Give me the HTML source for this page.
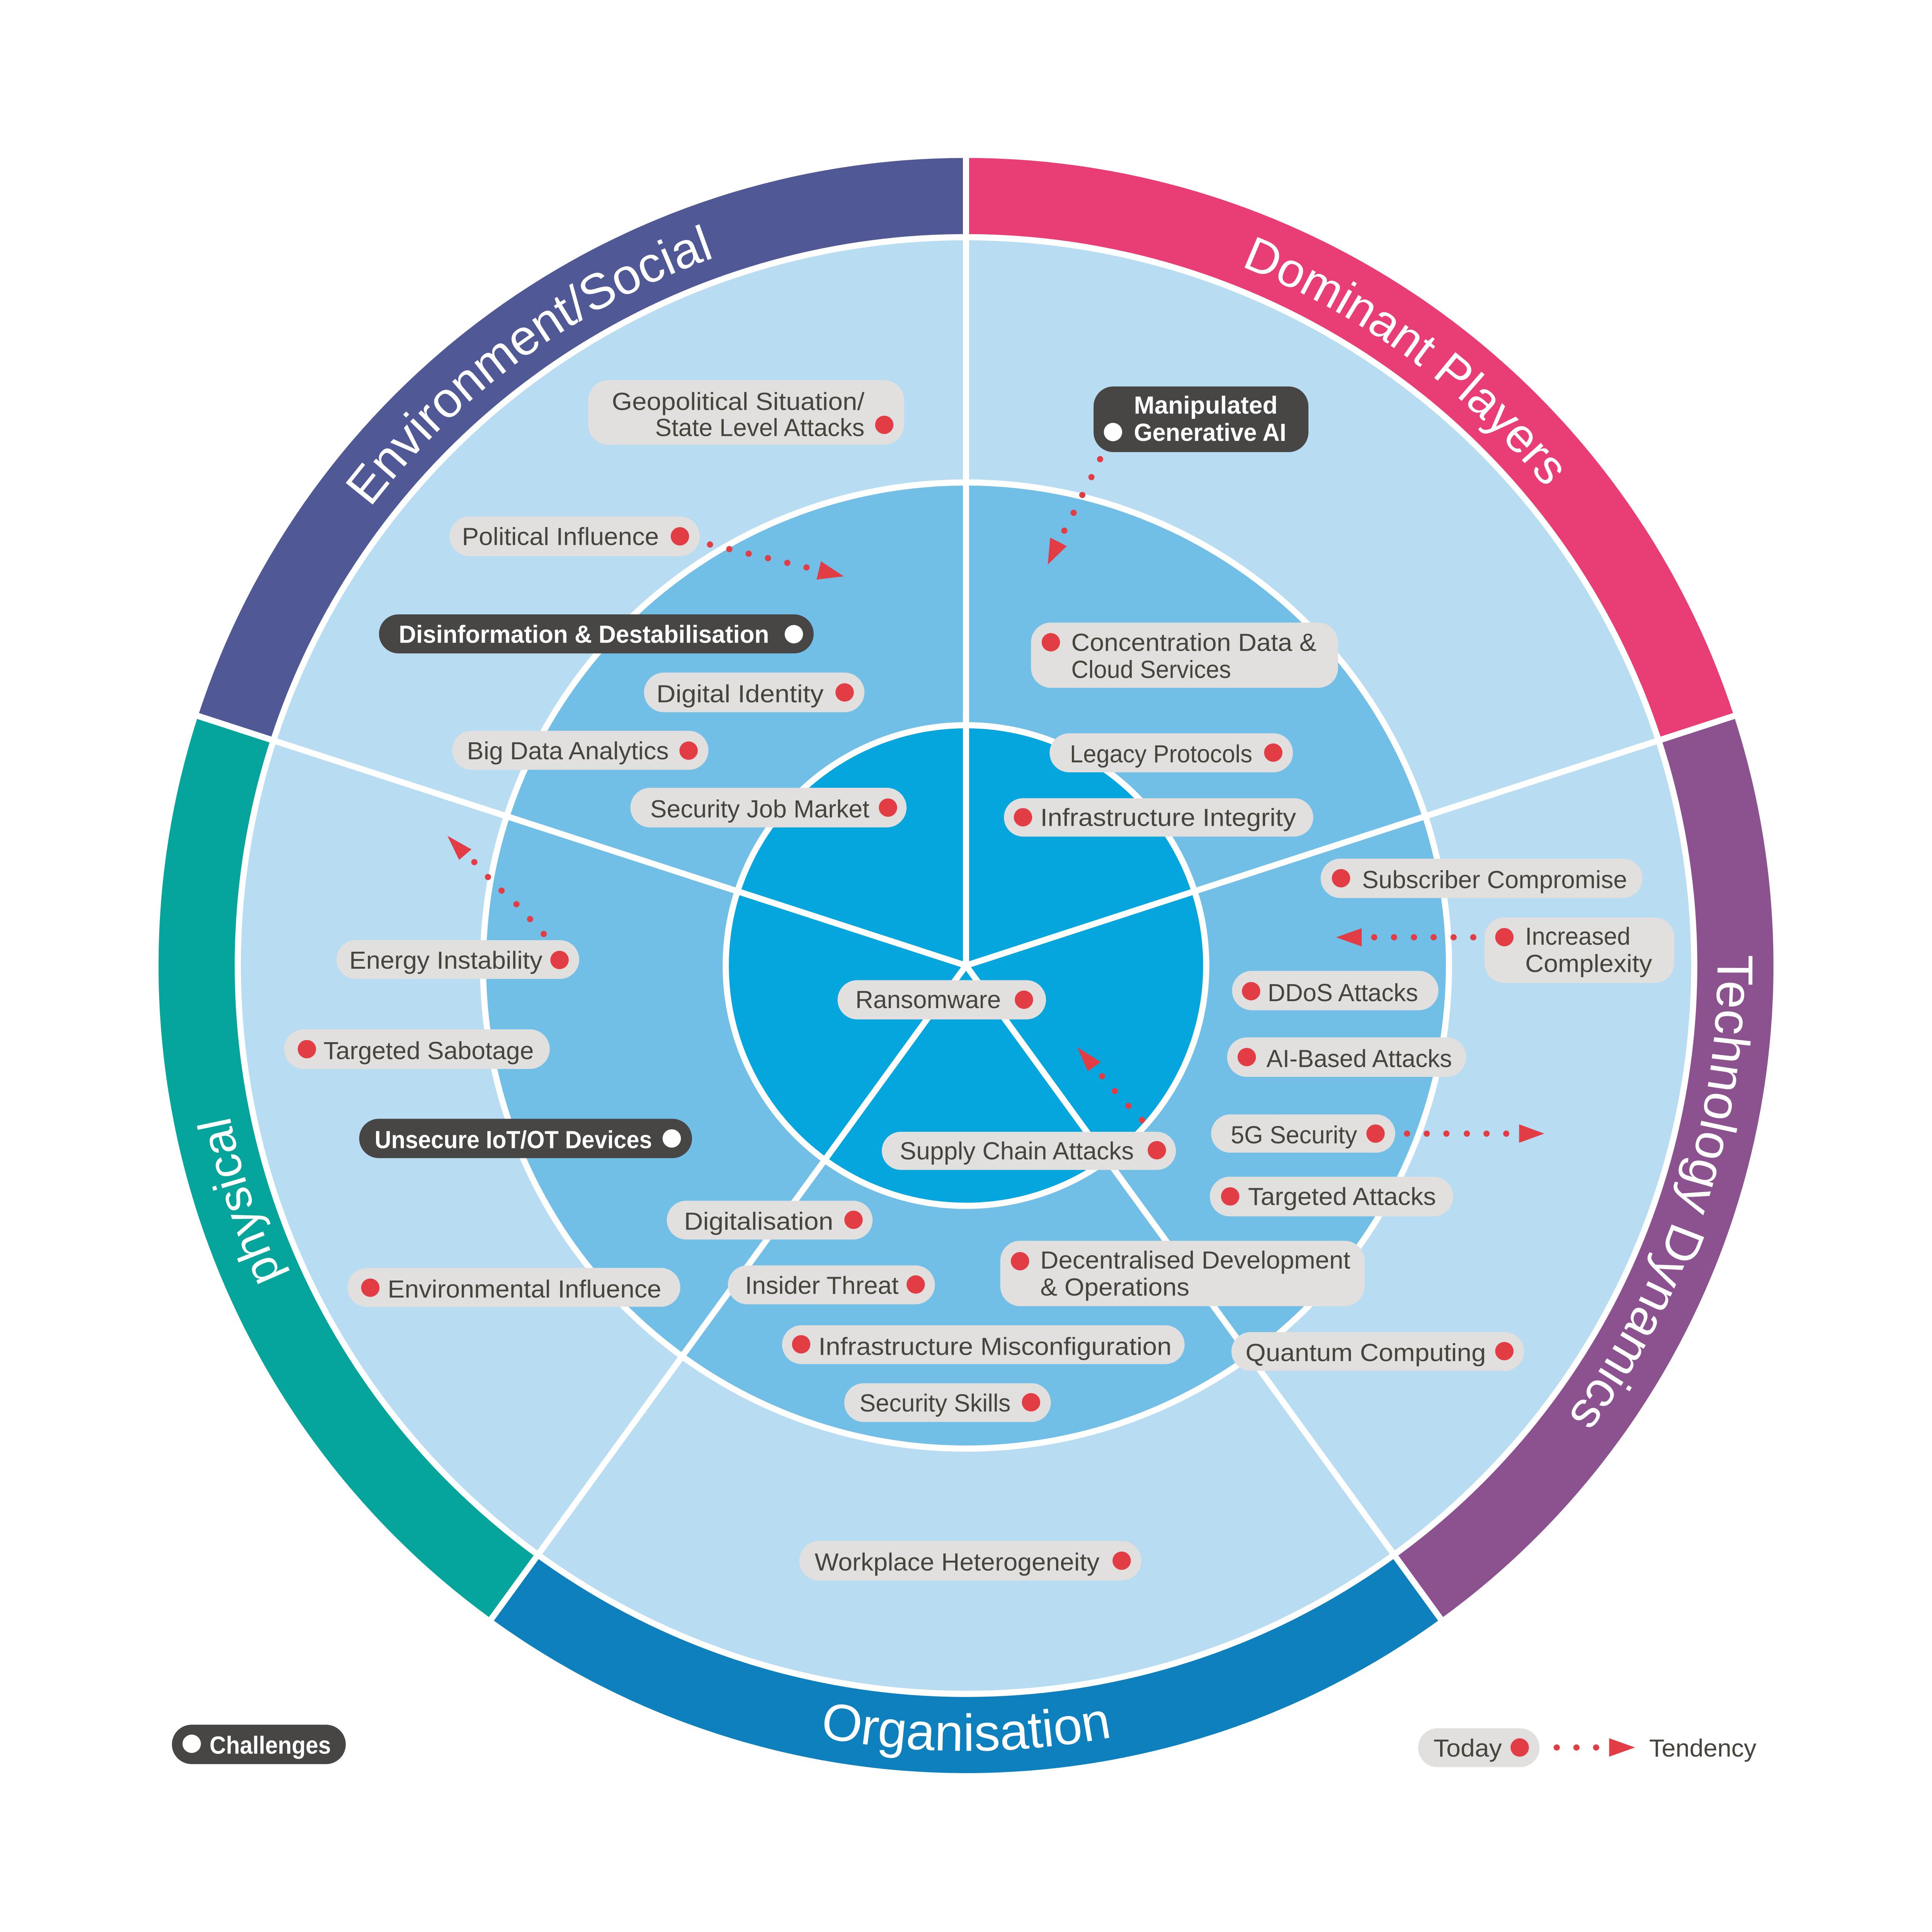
<!DOCTYPE html>
<html>
<head>
<meta charset="utf-8">
<meta name="viewport" content="width=device-width, initial-scale=1">
<style>
html,body{margin:0;padding:0;background:#fff;width:100%;height:100%;overflow:hidden;}
svg{display:block;width:100vw;height:100vh;position:absolute;left:0;top:0;}
.t{font-family:"Liberation Sans",sans-serif;font-size:20px;fill:#47443e;}
.b{font-family:"Liberation Sans",sans-serif;font-size:20px;font-weight:bold;fill:#ffffff;}
.rt{font-family:"Liberation Sans",sans-serif;fill:#ffffff;}
.lb{fill:#e1e0df;}
.dk{fill:#474645;}
.rd{fill:#e23d44;}
.wd{fill:#ffffff;}
</style>
</head>
<body>
<svg viewBox="0 0 1560 1559.76" preserveAspectRatio="none" xmlns="http://www.w3.org/2000/svg">
<rect x="0" y="0" width="1560" height="1560" fill="#ffffff"/>

<!-- Outer ring segments -->
<path d="M780 127.5 A652 652 0 0 1 1400.09 578.02 L1337.32 598.41 A586 586 0 0 0 780 193.5 Z" fill="#e93d76"/>
<path d="M1400.09 578.02 A652 652 0 0 1 1163.24 1306.98 L1124.44 1253.59 A586 586 0 0 0 1337.32 598.41 Z" fill="#8c528f"/>
<path d="M1163.24 1306.98 A652 652 0 0 1 396.76 1306.98 L435.56 1253.59 A586 586 0 0 0 1124.44 1253.59 Z" fill="#0f80be"/>
<path d="M396.76 1306.98 A652 652 0 0 1 159.91 578.02 L222.68 598.41 A586 586 0 0 0 435.56 1253.59 Z" fill="#05a59b"/>
<path d="M159.91 578.02 A652 652 0 0 1 780 127.5 L780 193.5 A586 586 0 0 0 222.68 598.41 Z" fill="#505996"/>

<!-- Discs -->
<circle cx="780" cy="779.5" r="588" fill="#b8dcf2" stroke="#ffffff" stroke-width="5"/>
<circle cx="780" cy="779.5" r="390" fill="#71bee7" stroke="#ffffff" stroke-width="5"/>
<circle cx="780" cy="779.5" r="194" fill="#05a5dd" stroke="#ffffff" stroke-width="5"/>

<!-- Spokes -->
<g stroke="#ffffff" stroke-width="5" stroke-linecap="butt">
<line x1="780" y1="779.5" x2="780" y2="119.5"/>
<line x1="780" y1="779.5" x2="1407.70" y2="575.55"/>
<line x1="780" y1="779.5" x2="1167.94" y2="1313.45"/>
<line x1="780" y1="779.5" x2="392.06" y2="1313.45"/>
<line x1="780" y1="779.5" x2="152.30" y2="575.55"/>
</g>

<!-- Ring text paths -->
<defs>
<path id="pEnv" d="M288.93 1136.29 A607 607 0 0 1 1271.07 422.71"/>
<path id="pDom" d="M288.93 422.71 A607 607 0 0 1 1271.07 1136.29"/>
<path id="pTech" d="M967.58 202.21 A607 607 0 0 1 592.42 1356.79"/>
<path id="pPhys" d="M967.58 1356.79 A607 607 0 0 1 592.42 202.21"/>
<path id="pOrg" d="M146 779.5 A634 634 0 0 0 1414 779.5"/>
</defs>
<text class="rt" font-size="40.5"><textPath href="#pEnv" startOffset="50%" text-anchor="middle">Environment/Social</textPath></text>
<text class="rt" font-size="39"><textPath href="#pDom" startOffset="50%" text-anchor="middle">Dominant Players</textPath></text>
<text class="rt" font-size="41"><textPath href="#pTech" startOffset="50%" text-anchor="middle">Technology Dynamics</textPath></text>
<text class="rt" font-size="38"><textPath href="#pPhys" startOffset="50%" text-anchor="middle">physical</textPath></text>
<text class="rt" font-size="42"><textPath href="#pOrg" startOffset="50%" text-anchor="middle">Organisation</textPath></text>

<!-- Arrows -->
<g class="rd">
<circle cx="573.3" cy="439.6" r="2.5"/><circle cx="588.9" cy="443.3" r="2.5"/><circle cx="604.5" cy="447" r="2.5"/>
<circle cx="620.1" cy="450.6" r="2.5"/><circle cx="635.7" cy="454.4" r="2.5"/><circle cx="651.2" cy="458.1" r="2.5"/>
<polygon points="662.9,453.1 681.3,465.3 659.3,467.9"/>
<circle cx="888.3" cy="370.7" r="2.5"/><circle cx="881.3" cy="385.2" r="2.5"/><circle cx="873.9" cy="399.6" r="2.5"/>
<circle cx="866.9" cy="414" r="2.5"/><circle cx="859.4" cy="428.4" r="2.5"/>
<polygon points="846,455.8 848,434 861.4,440.9"/>
<circle cx="1189.6" cy="756.7" r="2.5"/><circle cx="1173.7" cy="756.7" r="2.5"/><circle cx="1157.6" cy="756.7" r="2.5"/>
<circle cx="1141.7" cy="756.7" r="2.5"/><circle cx="1125.6" cy="756.7" r="2.5"/><circle cx="1109.6" cy="756.7" r="2.5"/>
<polygon points="1078.8,756.7 1099.5,749.4 1099.5,764.1"/>
<circle cx="439" cy="754" r="2.5"/><circle cx="428" cy="742" r="2.5"/><circle cx="417" cy="730" r="2.5"/>
<circle cx="405" cy="719" r="2.5"/><circle cx="394" cy="708" r="2.5"/><circle cx="383" cy="696" r="2.5"/>
<polygon points="361.3,674.8 380.7,685.7 370.7,694.2"/>
<circle cx="1136.1" cy="915.2" r="2.5"/><circle cx="1152" cy="915.2" r="2.5"/><circle cx="1167.9" cy="915.2" r="2.5"/>
<circle cx="1184.4" cy="915.2" r="2.5"/><circle cx="1200.3" cy="915.2" r="2.5"/><circle cx="1216.2" cy="915.2" r="2.5"/>
<polygon points="1226.6,907.7 1226.6,922.6 1247,915.2"/>
<circle cx="922.1" cy="904.2" r="2.5"/><circle cx="911.2" cy="892.8" r="2.5"/><circle cx="900.2" cy="880.8" r="2.5"/>
<circle cx="889.8" cy="868.9" r="2.5"/>
<polygon points="869.9,845.5 888.8,857.4 878.3,864.9"/>
<circle cx="1257" cy="1410.8" r="2.5"/><circle cx="1272.9" cy="1410.8" r="2.5"/><circle cx="1288.8" cy="1410.8" r="2.5"/>
<polygon points="1299.3,1403.3 1299.3,1418.2 1320.2,1410.8"/>
</g>

<!-- Labels -->
<rect class="lb" x="475" y="307" width="255" height="52" rx="16"/>
<text class="t" x="494" y="331" textLength="204" lengthAdjust="spacingAndGlyphs">Geopolitical Situation/</text>
<text class="t" x="529" y="352" textLength="169" lengthAdjust="spacingAndGlyphs">State Level Attacks</text>
<circle class="rd" cx="714" cy="343" r="7.4"/>

<rect class="lb" x="363" y="417" width="202" height="32" rx="16"/>
<text class="t" x="373" y="440" textLength="159" lengthAdjust="spacingAndGlyphs">Political Influence</text>
<circle class="rd" cx="549" cy="433" r="7.4"/>

<rect class="dk" x="306" y="496" width="351" height="31.5" rx="15.75"/>
<text class="b" x="322" y="519" textLength="299" lengthAdjust="spacingAndGlyphs">Disinformation &amp; Destabilisation</text>
<circle class="wd" cx="641" cy="512" r="7.4"/>

<rect class="lb" x="520" y="543" width="178" height="32" rx="16"/>
<text class="t" x="530" y="567" textLength="135" lengthAdjust="spacingAndGlyphs">Digital Identity</text>
<circle class="rd" cx="682" cy="559" r="7.4"/>

<rect class="lb" x="365" y="590" width="207" height="31.5" rx="15.75"/>
<text class="t" x="377" y="613" textLength="163" lengthAdjust="spacingAndGlyphs">Big Data Analytics</text>
<circle class="rd" cx="556" cy="606" r="7.4"/>

<rect class="lb" x="509" y="636" width="223" height="32" rx="16"/>
<text class="t" x="525" y="660" textLength="177" lengthAdjust="spacingAndGlyphs">Security Job Market</text>
<circle class="rd" cx="717" cy="652" r="7.4"/>

<rect class="dk" x="883" y="312" width="173.5" height="53" rx="16"/>
<text class="b" x="915.6" y="334" textLength="116" lengthAdjust="spacingAndGlyphs">Manipulated</text>
<text class="b" x="915.6" y="356" textLength="123" lengthAdjust="spacingAndGlyphs">Generative AI</text>
<circle class="wd" cx="898.7" cy="348.8" r="7.4"/>

<rect class="lb" x="832.5" y="502.6" width="247.9" height="52.7" rx="16"/>
<circle class="rd" cx="848.5" cy="518.5" r="7.4"/>
<text class="t" x="865" y="525.5" textLength="198" lengthAdjust="spacingAndGlyphs">Concentration Data &amp;</text>
<text class="t" x="865" y="547.4" textLength="129" lengthAdjust="spacingAndGlyphs">Cloud Services</text>

<rect class="lb" x="847.5" y="592" width="196.5" height="31.5" rx="15.75"/>
<text class="t" x="863.9" y="615.5" textLength="147.3" lengthAdjust="spacingAndGlyphs">Legacy Protocols</text>
<circle class="rd" cx="1028.1" cy="607.6" r="7.4"/>

<rect class="lb" x="810.6" y="644.4" width="249.8" height="31" rx="15.5"/>
<circle class="rd" cx="826" cy="659.8" r="7.4"/>
<text class="t" x="840" y="666.8" textLength="206.5" lengthAdjust="spacingAndGlyphs">Infrastructure Integrity</text>

<rect class="lb" x="1066.4" y="693.2" width="259.8" height="31.8" rx="15.9"/>
<circle class="rd" cx="1082.8" cy="709" r="7.4"/>
<text class="t" x="1099.8" y="717" textLength="214" lengthAdjust="spacingAndGlyphs">Subscriber Compromise</text>

<rect class="lb" x="1198.7" y="740.7" width="153.2" height="52.8" rx="16"/>
<circle class="rd" cx="1214.7" cy="756.6" r="7.4"/>
<text class="t" x="1231.5" y="762.8" textLength="85" lengthAdjust="spacingAndGlyphs">Increased</text>
<text class="t" x="1231.5" y="784.7" textLength="102.5" lengthAdjust="spacingAndGlyphs">Complexity</text>

<rect class="lb" x="271.7" y="759" width="196" height="31.3" rx="15.65"/>
<text class="t" x="282" y="782" textLength="156" lengthAdjust="spacingAndGlyphs">Energy Instability</text>
<circle class="rd" cx="451.8" cy="775" r="7.4"/>

<rect class="lb" x="229.4" y="831" width="214.5" height="32" rx="16"/>
<circle class="rd" cx="247.8" cy="847" r="7.4"/>
<text class="t" x="261.2" y="855" textLength="169.8" lengthAdjust="spacingAndGlyphs">Targeted Sabotage</text>

<rect class="dk" x="290" y="903.2" width="268.8" height="31.8" rx="15.9"/>
<text class="b" x="302.5" y="927" textLength="224" lengthAdjust="spacingAndGlyphs">Unsecure IoT/OT Devices</text>
<circle class="wd" cx="542.4" cy="919.1" r="7.4"/>

<rect class="lb" x="538.4" y="969.4" width="166.2" height="31.3" rx="15.65"/>
<text class="t" x="552.3" y="992.8" textLength="120.5" lengthAdjust="spacingAndGlyphs">Digitalisation</text>
<circle class="rd" cx="689.2" cy="984.8" r="7.4"/>

<rect class="lb" x="280.6" y="1023.6" width="268.7" height="31.4" rx="15.7"/>
<circle class="rd" cx="299" cy="1039.6" r="7.4"/>
<text class="t" x="313" y="1047.5" textLength="221" lengthAdjust="spacingAndGlyphs">Environmental Influence</text>

<rect class="lb" x="587.7" y="1021.6" width="167.2" height="31.4" rx="15.7"/>
<text class="t" x="601.6" y="1044.5" textLength="124" lengthAdjust="spacingAndGlyphs">Insider Threat</text>
<circle class="rd" cx="739.4" cy="1037" r="7.4"/>

<rect class="lb" x="631.5" y="1069.9" width="325" height="31.4" rx="15.7"/>
<circle class="rd" cx="646.9" cy="1085.3" r="7.4"/>
<text class="t" x="660.8" y="1093.8" textLength="285.2" lengthAdjust="spacingAndGlyphs">Infrastructure Misconfiguration</text>

<rect class="lb" x="681.7" y="1116.7" width="166.8" height="31.3" rx="15.65"/>
<text class="t" x="694" y="1139.6" textLength="122" lengthAdjust="spacingAndGlyphs">Security Skills</text>
<circle class="rd" cx="832.5" cy="1132.1" r="7.4"/>

<rect class="lb" x="645.4" y="1244" width="276.2" height="32" rx="16"/>
<text class="t" x="657.8" y="1268" textLength="230" lengthAdjust="spacingAndGlyphs">Workplace Heterogeneity</text>
<circle class="rd" cx="905.7" cy="1260" r="7.4"/>

<rect class="dk" x="138.8" y="1392.4" width="140.4" height="31.8" rx="15.9"/>
<circle class="wd" cx="154.8" cy="1407.8" r="7.4"/>
<text class="b" x="169.2" y="1415.8" textLength="98" lengthAdjust="spacingAndGlyphs">Challenges</text>

<rect class="lb" x="676.3" y="791.3" width="168.3" height="31.7" rx="15.85"/>
<text class="t" x="690.7" y="813.9" textLength="117.5" lengthAdjust="spacingAndGlyphs">Ransomware</text>
<circle class="rd" cx="826.8" cy="807.1" r="7.4"/>

<rect class="lb" x="712" y="913.7" width="237.5" height="30.8" rx="15.4"/>
<text class="t" x="726.5" y="936" textLength="189" lengthAdjust="spacingAndGlyphs">Supply Chain Attacks</text>
<circle class="rd" cx="934.1" cy="928.6" r="7.4"/>

<rect class="lb" x="994.8" y="783.8" width="166.7" height="31.8" rx="15.9"/>
<circle class="rd" cx="1010.2" cy="800.2" r="7.4"/>
<text class="t" x="1023.6" y="808.2" textLength="121.4" lengthAdjust="spacingAndGlyphs">DDoS Attacks</text>

<rect class="lb" x="990.8" y="837.5" width="193.1" height="31.9" rx="15.95"/>
<circle class="rd" cx="1006.7" cy="853.4" r="7.4"/>
<text class="t" x="1022.6" y="861.4" textLength="149.8" lengthAdjust="spacingAndGlyphs">AI-Based Attacks</text>

<rect class="lb" x="977.9" y="899.7" width="148.7" height="30.9" rx="15.45"/>
<text class="t" x="993.8" y="923.1" textLength="102" lengthAdjust="spacingAndGlyphs">5G Security</text>
<circle class="rd" cx="1110.7" cy="915.2" r="7.4"/>

<rect class="lb" x="976.9" y="950" width="196.5" height="32" rx="16"/>
<circle class="rd" cx="993.3" cy="965.9" r="7.4"/>
<text class="t" x="1007.7" y="972.9" textLength="151.8" lengthAdjust="spacingAndGlyphs">Targeted Attacks</text>

<rect class="lb" x="807.7" y="1001.7" width="294.1" height="52.8" rx="16"/>
<circle class="rd" cx="823.6" cy="1018.2" r="7.4"/>
<text class="t" x="840" y="1024.1" textLength="250.3" lengthAdjust="spacingAndGlyphs">Decentralised Development</text>
<text class="t" x="840" y="1046" textLength="120.4" lengthAdjust="spacingAndGlyphs">&amp; Operations</text>

<rect class="lb" x="994.3" y="1075.4" width="236.3" height="31.3" rx="15.65"/>
<text class="t" x="1005.7" y="1098.8" textLength="194.1" lengthAdjust="spacingAndGlyphs">Quantum Computing</text>
<circle class="rd" cx="1214.7" cy="1090.8" r="7.4"/>

<rect class="lb" x="1145" y="1395.3" width="98.1" height="31.4" rx="15.7"/>
<text class="t" x="1157.5" y="1418.2" textLength="55.2" lengthAdjust="spacingAndGlyphs">Today</text>
<circle class="rd" cx="1227.1" cy="1410.8" r="7.4"/>
<text class="t" x="1331.6" y="1418.2" textLength="86.6" lengthAdjust="spacingAndGlyphs">Tendency</text>
</svg>
</body>
</html>
